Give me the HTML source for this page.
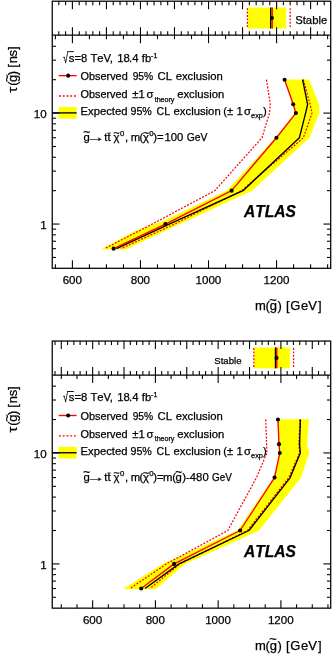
<!DOCTYPE html>
<html lang="en">
<head>
<meta charset="utf-8">
<title>ATLAS gluino lifetime exclusion</title>
<style>
html,body{margin:0;padding:0;background:#fff;}
body{width:332px;height:655px;overflow:hidden;}
svg{display:block;filter:blur(0.33px);}
svg text{font-family:'Liberation Sans', Arial, Helvetica, sans-serif;fill:#000;font-kerning:none;stroke:#000;stroke-width:0.25px;}
</style>
</head>
<body>
<svg width="332" height="655" viewBox="0 0 332 655">
<rect x="0" y="0" width="332" height="655" fill="#fff"/>
<g id="plot1">
<path d="M284.3 79.5 L292.5 104.4 L295 113.05 L275.5 137.6 L227 190.6 L165 220.2 L135 231.1 L102.5 248.6 L103.5 249.5 L125.6 249.5 L180 224.05 L252.3 190.6 L309.4 137.7 L319.2 113.5 L319.2 104.9 L309.1 79.5 Z" fill="#ffff00" stroke="none" stroke-width="1"/>
<rect x="247.8" y="7.6" width="38.4" height="20.9" fill="#ffff00"/>
<rect x="58.7" y="107" width="17.9" height="11.7" fill="#ffff00"/>
<path d="M266.5 79.7 L270.3 104.31 L269.5 113.1 L262 137.71 L214.8 190.65 L152.3 224.05 L104.5 248.66" fill="none" stroke="#ff0000" stroke-width="1.25" stroke-dasharray="1.9 1.5" stroke-linejoin="round"/>
<path d="M303.3 79.7 L310.1 104.31 L312 113.1 L303.4 137.71 L241.5 190.65 L174.5 224.05 L121 248.66" fill="none" stroke="#ff0000" stroke-width="1.25" stroke-dasharray="1.9 1.5" stroke-linejoin="round"/>
<line x1="247.4" y1="8.2" x2="247.4" y2="28.5" stroke="#ff0000" stroke-width="1.25" stroke-dasharray="1.9 1.5" stroke-linejoin="round"/>
<line x1="290.2" y1="8.2" x2="290.2" y2="28.5" stroke="#ff0000" stroke-width="1.25" stroke-dasharray="1.9 1.5" stroke-linejoin="round"/>
<line x1="59" y1="96" x2="76" y2="96" stroke="#ff0000" stroke-width="1.4" stroke-dasharray="1.9 1.85"/>
<path d="M302.6 79.7 L307.6 104.31 L305.6 113.1 L299.4 137.71 L243 190.65 L169.2 224.05 L116.5 248.66" fill="none" stroke="#000" stroke-width="1.35" stroke-linejoin="round"/>
<line x1="270.7" y1="7.6" x2="270.7" y2="28.5" stroke="#000" stroke-width="1.4"/>
<line x1="52.25" y1="112.9" x2="76.6" y2="112.9" stroke="#000" stroke-width="1.35"/>
<path d="M284.6 79.7 L293.2 104.31 L295.9 113.1 L276.45 137.71 L231.6 190.65 L165.4 224.05 L113.6 248.66" fill="none" stroke="#ff0000" stroke-width="1.35" stroke-linejoin="round"/>
<circle cx="284.6" cy="79.7" r="2.05" fill="#000"/>
<circle cx="293.2" cy="104.31" r="2.05" fill="#000"/>
<circle cx="295.9" cy="113.1" r="2.05" fill="#000"/>
<circle cx="276.45" cy="137.71" r="2.05" fill="#000"/>
<circle cx="231.6" cy="190.65" r="2.05" fill="#000"/>
<circle cx="165.4" cy="224.05" r="2.05" fill="#000"/>
<circle cx="113.6" cy="248.66" r="2.05" fill="#000"/>
<line x1="272.2" y1="7.6" x2="272.2" y2="28.5" stroke="#ff0000" stroke-width="1.4"/>
<circle cx="271.95" cy="18.05" r="2.05" fill="#000"/>
<line x1="58.7" y1="75.65" x2="76.6" y2="75.65" stroke="#ff0000" stroke-width="1.35"/>
<circle cx="68.2" cy="75.65" r="2.05" fill="#000"/>
<rect x="52.25" y="1.2" width="278.45" height="267.1" fill="none" stroke="#000" stroke-width="1.25"/>
<line x1="52.25" y1="35.15" x2="330.7" y2="35.15" stroke="#000" stroke-width="1.25"/>
<line x1="55.39" y1="35.15" x2="55.39" y2="39.15" stroke="#000" stroke-width="1.08"/>
<line x1="55.39" y1="268.3" x2="55.39" y2="264.3" stroke="#000" stroke-width="1.08"/>
<line x1="58.79" y1="1.2" x2="58.79" y2="5.2" stroke="#000" stroke-width="1.08"/>
<line x1="58.79" y1="35.15" x2="58.79" y2="31.15" stroke="#000" stroke-width="1.08"/>
<line x1="65.59" y1="1.2" x2="65.59" y2="5.2" stroke="#000" stroke-width="1.08"/>
<line x1="65.59" y1="35.15" x2="65.59" y2="31.15" stroke="#000" stroke-width="1.08"/>
<line x1="72.4" y1="1.2" x2="72.4" y2="9.2" stroke="#000" stroke-width="1.08"/>
<line x1="72.4" y1="35.15" x2="72.4" y2="27.15" stroke="#000" stroke-width="1.08"/>
<line x1="72.4" y1="35.15" x2="72.4" y2="43.15" stroke="#000" stroke-width="1.08"/>
<line x1="72.4" y1="268.3" x2="72.4" y2="260.3" stroke="#000" stroke-width="1.08"/>
<line x1="79.21" y1="1.2" x2="79.21" y2="5.2" stroke="#000" stroke-width="1.08"/>
<line x1="79.21" y1="35.15" x2="79.21" y2="31.15" stroke="#000" stroke-width="1.08"/>
<line x1="86.01" y1="1.2" x2="86.01" y2="5.2" stroke="#000" stroke-width="1.08"/>
<line x1="86.01" y1="35.15" x2="86.01" y2="31.15" stroke="#000" stroke-width="1.08"/>
<line x1="89.42" y1="35.15" x2="89.42" y2="39.15" stroke="#000" stroke-width="1.08"/>
<line x1="89.42" y1="268.3" x2="89.42" y2="264.3" stroke="#000" stroke-width="1.08"/>
<line x1="92.82" y1="1.2" x2="92.82" y2="5.2" stroke="#000" stroke-width="1.08"/>
<line x1="92.82" y1="35.15" x2="92.82" y2="31.15" stroke="#000" stroke-width="1.08"/>
<line x1="99.62" y1="1.2" x2="99.62" y2="5.2" stroke="#000" stroke-width="1.08"/>
<line x1="99.62" y1="35.15" x2="99.62" y2="31.15" stroke="#000" stroke-width="1.08"/>
<line x1="106.43" y1="1.2" x2="106.43" y2="9.2" stroke="#000" stroke-width="1.08"/>
<line x1="106.43" y1="35.15" x2="106.43" y2="27.15" stroke="#000" stroke-width="1.08"/>
<line x1="106.43" y1="35.15" x2="106.43" y2="39.15" stroke="#000" stroke-width="1.08"/>
<line x1="106.43" y1="268.3" x2="106.43" y2="264.3" stroke="#000" stroke-width="1.08"/>
<line x1="113.24" y1="1.2" x2="113.24" y2="5.2" stroke="#000" stroke-width="1.08"/>
<line x1="113.24" y1="35.15" x2="113.24" y2="31.15" stroke="#000" stroke-width="1.08"/>
<line x1="120.04" y1="1.2" x2="120.04" y2="5.2" stroke="#000" stroke-width="1.08"/>
<line x1="120.04" y1="35.15" x2="120.04" y2="31.15" stroke="#000" stroke-width="1.08"/>
<line x1="123.45" y1="35.15" x2="123.45" y2="39.15" stroke="#000" stroke-width="1.08"/>
<line x1="123.45" y1="268.3" x2="123.45" y2="264.3" stroke="#000" stroke-width="1.08"/>
<line x1="126.85" y1="1.2" x2="126.85" y2="5.2" stroke="#000" stroke-width="1.08"/>
<line x1="126.85" y1="35.15" x2="126.85" y2="31.15" stroke="#000" stroke-width="1.08"/>
<line x1="133.65" y1="1.2" x2="133.65" y2="5.2" stroke="#000" stroke-width="1.08"/>
<line x1="133.65" y1="35.15" x2="133.65" y2="31.15" stroke="#000" stroke-width="1.08"/>
<line x1="140.46" y1="1.2" x2="140.46" y2="9.2" stroke="#000" stroke-width="1.08"/>
<line x1="140.46" y1="35.15" x2="140.46" y2="27.15" stroke="#000" stroke-width="1.08"/>
<line x1="140.46" y1="35.15" x2="140.46" y2="43.15" stroke="#000" stroke-width="1.08"/>
<line x1="140.46" y1="268.3" x2="140.46" y2="260.3" stroke="#000" stroke-width="1.08"/>
<line x1="147.27" y1="1.2" x2="147.27" y2="5.2" stroke="#000" stroke-width="1.08"/>
<line x1="147.27" y1="35.15" x2="147.27" y2="31.15" stroke="#000" stroke-width="1.08"/>
<line x1="154.07" y1="1.2" x2="154.07" y2="5.2" stroke="#000" stroke-width="1.08"/>
<line x1="154.07" y1="35.15" x2="154.07" y2="31.15" stroke="#000" stroke-width="1.08"/>
<line x1="157.48" y1="35.15" x2="157.48" y2="39.15" stroke="#000" stroke-width="1.08"/>
<line x1="157.48" y1="268.3" x2="157.48" y2="264.3" stroke="#000" stroke-width="1.08"/>
<line x1="160.88" y1="1.2" x2="160.88" y2="5.2" stroke="#000" stroke-width="1.08"/>
<line x1="160.88" y1="35.15" x2="160.88" y2="31.15" stroke="#000" stroke-width="1.08"/>
<line x1="167.68" y1="1.2" x2="167.68" y2="5.2" stroke="#000" stroke-width="1.08"/>
<line x1="167.68" y1="35.15" x2="167.68" y2="31.15" stroke="#000" stroke-width="1.08"/>
<line x1="174.49" y1="1.2" x2="174.49" y2="9.2" stroke="#000" stroke-width="1.08"/>
<line x1="174.49" y1="35.15" x2="174.49" y2="27.15" stroke="#000" stroke-width="1.08"/>
<line x1="174.49" y1="35.15" x2="174.49" y2="39.15" stroke="#000" stroke-width="1.08"/>
<line x1="174.49" y1="268.3" x2="174.49" y2="264.3" stroke="#000" stroke-width="1.08"/>
<line x1="181.3" y1="1.2" x2="181.3" y2="5.2" stroke="#000" stroke-width="1.08"/>
<line x1="181.3" y1="35.15" x2="181.3" y2="31.15" stroke="#000" stroke-width="1.08"/>
<line x1="188.1" y1="1.2" x2="188.1" y2="5.2" stroke="#000" stroke-width="1.08"/>
<line x1="188.1" y1="35.15" x2="188.1" y2="31.15" stroke="#000" stroke-width="1.08"/>
<line x1="191.5" y1="35.15" x2="191.5" y2="39.15" stroke="#000" stroke-width="1.08"/>
<line x1="191.5" y1="268.3" x2="191.5" y2="264.3" stroke="#000" stroke-width="1.08"/>
<line x1="194.91" y1="1.2" x2="194.91" y2="5.2" stroke="#000" stroke-width="1.08"/>
<line x1="194.91" y1="35.15" x2="194.91" y2="31.15" stroke="#000" stroke-width="1.08"/>
<line x1="201.71" y1="1.2" x2="201.71" y2="5.2" stroke="#000" stroke-width="1.08"/>
<line x1="201.71" y1="35.15" x2="201.71" y2="31.15" stroke="#000" stroke-width="1.08"/>
<line x1="208.52" y1="1.2" x2="208.52" y2="9.2" stroke="#000" stroke-width="1.08"/>
<line x1="208.52" y1="35.15" x2="208.52" y2="27.15" stroke="#000" stroke-width="1.08"/>
<line x1="208.52" y1="35.15" x2="208.52" y2="43.15" stroke="#000" stroke-width="1.08"/>
<line x1="208.52" y1="268.3" x2="208.52" y2="260.3" stroke="#000" stroke-width="1.08"/>
<line x1="215.33" y1="1.2" x2="215.33" y2="5.2" stroke="#000" stroke-width="1.08"/>
<line x1="215.33" y1="35.15" x2="215.33" y2="31.15" stroke="#000" stroke-width="1.08"/>
<line x1="222.13" y1="1.2" x2="222.13" y2="5.2" stroke="#000" stroke-width="1.08"/>
<line x1="222.13" y1="35.15" x2="222.13" y2="31.15" stroke="#000" stroke-width="1.08"/>
<line x1="225.53" y1="35.15" x2="225.53" y2="39.15" stroke="#000" stroke-width="1.08"/>
<line x1="225.53" y1="268.3" x2="225.53" y2="264.3" stroke="#000" stroke-width="1.08"/>
<line x1="228.94" y1="1.2" x2="228.94" y2="5.2" stroke="#000" stroke-width="1.08"/>
<line x1="228.94" y1="35.15" x2="228.94" y2="31.15" stroke="#000" stroke-width="1.08"/>
<line x1="235.74" y1="1.2" x2="235.74" y2="5.2" stroke="#000" stroke-width="1.08"/>
<line x1="235.74" y1="35.15" x2="235.74" y2="31.15" stroke="#000" stroke-width="1.08"/>
<line x1="242.55" y1="1.2" x2="242.55" y2="9.2" stroke="#000" stroke-width="1.08"/>
<line x1="242.55" y1="35.15" x2="242.55" y2="27.15" stroke="#000" stroke-width="1.08"/>
<line x1="242.55" y1="35.15" x2="242.55" y2="39.15" stroke="#000" stroke-width="1.08"/>
<line x1="242.55" y1="268.3" x2="242.55" y2="264.3" stroke="#000" stroke-width="1.08"/>
<line x1="249.36" y1="1.2" x2="249.36" y2="5.2" stroke="#000" stroke-width="1.08"/>
<line x1="249.36" y1="35.15" x2="249.36" y2="31.15" stroke="#000" stroke-width="1.08"/>
<line x1="256.16" y1="1.2" x2="256.16" y2="5.2" stroke="#000" stroke-width="1.08"/>
<line x1="256.16" y1="35.15" x2="256.16" y2="31.15" stroke="#000" stroke-width="1.08"/>
<line x1="259.56" y1="35.15" x2="259.56" y2="39.15" stroke="#000" stroke-width="1.08"/>
<line x1="259.56" y1="268.3" x2="259.56" y2="264.3" stroke="#000" stroke-width="1.08"/>
<line x1="262.97" y1="1.2" x2="262.97" y2="5.2" stroke="#000" stroke-width="1.08"/>
<line x1="262.97" y1="35.15" x2="262.97" y2="31.15" stroke="#000" stroke-width="1.08"/>
<line x1="269.77" y1="1.2" x2="269.77" y2="5.2" stroke="#000" stroke-width="1.08"/>
<line x1="269.77" y1="35.15" x2="269.77" y2="31.15" stroke="#000" stroke-width="1.08"/>
<line x1="276.58" y1="1.2" x2="276.58" y2="9.2" stroke="#000" stroke-width="1.08"/>
<line x1="276.58" y1="35.15" x2="276.58" y2="27.15" stroke="#000" stroke-width="1.08"/>
<line x1="276.58" y1="35.15" x2="276.58" y2="43.15" stroke="#000" stroke-width="1.08"/>
<line x1="276.58" y1="268.3" x2="276.58" y2="260.3" stroke="#000" stroke-width="1.08"/>
<line x1="283.39" y1="1.2" x2="283.39" y2="5.2" stroke="#000" stroke-width="1.08"/>
<line x1="283.39" y1="35.15" x2="283.39" y2="31.15" stroke="#000" stroke-width="1.08"/>
<line x1="290.19" y1="1.2" x2="290.19" y2="5.2" stroke="#000" stroke-width="1.08"/>
<line x1="290.19" y1="35.15" x2="290.19" y2="31.15" stroke="#000" stroke-width="1.08"/>
<line x1="293.6" y1="35.15" x2="293.6" y2="39.15" stroke="#000" stroke-width="1.08"/>
<line x1="293.6" y1="268.3" x2="293.6" y2="264.3" stroke="#000" stroke-width="1.08"/>
<line x1="297" y1="1.2" x2="297" y2="5.2" stroke="#000" stroke-width="1.08"/>
<line x1="297" y1="35.15" x2="297" y2="31.15" stroke="#000" stroke-width="1.08"/>
<line x1="303.8" y1="1.2" x2="303.8" y2="5.2" stroke="#000" stroke-width="1.08"/>
<line x1="303.8" y1="35.15" x2="303.8" y2="31.15" stroke="#000" stroke-width="1.08"/>
<line x1="310.61" y1="1.2" x2="310.61" y2="9.2" stroke="#000" stroke-width="1.08"/>
<line x1="310.61" y1="35.15" x2="310.61" y2="27.15" stroke="#000" stroke-width="1.08"/>
<line x1="310.61" y1="35.15" x2="310.61" y2="39.15" stroke="#000" stroke-width="1.08"/>
<line x1="310.61" y1="268.3" x2="310.61" y2="264.3" stroke="#000" stroke-width="1.08"/>
<line x1="317.42" y1="1.2" x2="317.42" y2="5.2" stroke="#000" stroke-width="1.08"/>
<line x1="317.42" y1="35.15" x2="317.42" y2="31.15" stroke="#000" stroke-width="1.08"/>
<line x1="324.22" y1="1.2" x2="324.22" y2="5.2" stroke="#000" stroke-width="1.08"/>
<line x1="324.22" y1="35.15" x2="324.22" y2="31.15" stroke="#000" stroke-width="1.08"/>
<line x1="327.62" y1="35.15" x2="327.62" y2="39.15" stroke="#000" stroke-width="1.08"/>
<line x1="327.62" y1="268.3" x2="327.62" y2="264.3" stroke="#000" stroke-width="1.08"/>
<line x1="52.25" y1="257.45" x2="55.95" y2="257.45" stroke="#000" stroke-width="1.08"/>
<line x1="330.7" y1="257.45" x2="327" y2="257.45" stroke="#000" stroke-width="1.08"/>
<line x1="52.25" y1="248.66" x2="55.95" y2="248.66" stroke="#000" stroke-width="1.08"/>
<line x1="330.7" y1="248.66" x2="327" y2="248.66" stroke="#000" stroke-width="1.08"/>
<line x1="52.25" y1="241.24" x2="55.95" y2="241.24" stroke="#000" stroke-width="1.08"/>
<line x1="330.7" y1="241.24" x2="327" y2="241.24" stroke="#000" stroke-width="1.08"/>
<line x1="52.25" y1="234.8" x2="55.95" y2="234.8" stroke="#000" stroke-width="1.08"/>
<line x1="330.7" y1="234.8" x2="327" y2="234.8" stroke="#000" stroke-width="1.08"/>
<line x1="52.25" y1="229.13" x2="55.95" y2="229.13" stroke="#000" stroke-width="1.08"/>
<line x1="330.7" y1="229.13" x2="327" y2="229.13" stroke="#000" stroke-width="1.08"/>
<line x1="52.25" y1="224.05" x2="59.55" y2="224.05" stroke="#000" stroke-width="1.08"/>
<line x1="330.7" y1="224.05" x2="323.4" y2="224.05" stroke="#000" stroke-width="1.08"/>
<line x1="52.25" y1="190.65" x2="55.95" y2="190.65" stroke="#000" stroke-width="1.08"/>
<line x1="330.7" y1="190.65" x2="327" y2="190.65" stroke="#000" stroke-width="1.08"/>
<line x1="52.25" y1="171.11" x2="55.95" y2="171.11" stroke="#000" stroke-width="1.08"/>
<line x1="330.7" y1="171.11" x2="327" y2="171.11" stroke="#000" stroke-width="1.08"/>
<line x1="52.25" y1="157.25" x2="55.95" y2="157.25" stroke="#000" stroke-width="1.08"/>
<line x1="330.7" y1="157.25" x2="327" y2="157.25" stroke="#000" stroke-width="1.08"/>
<line x1="52.25" y1="146.5" x2="55.95" y2="146.5" stroke="#000" stroke-width="1.08"/>
<line x1="330.7" y1="146.5" x2="327" y2="146.5" stroke="#000" stroke-width="1.08"/>
<line x1="52.25" y1="137.71" x2="55.95" y2="137.71" stroke="#000" stroke-width="1.08"/>
<line x1="330.7" y1="137.71" x2="327" y2="137.71" stroke="#000" stroke-width="1.08"/>
<line x1="52.25" y1="130.29" x2="55.95" y2="130.29" stroke="#000" stroke-width="1.08"/>
<line x1="330.7" y1="130.29" x2="327" y2="130.29" stroke="#000" stroke-width="1.08"/>
<line x1="52.25" y1="123.85" x2="55.95" y2="123.85" stroke="#000" stroke-width="1.08"/>
<line x1="330.7" y1="123.85" x2="327" y2="123.85" stroke="#000" stroke-width="1.08"/>
<line x1="52.25" y1="118.18" x2="55.95" y2="118.18" stroke="#000" stroke-width="1.08"/>
<line x1="330.7" y1="118.18" x2="327" y2="118.18" stroke="#000" stroke-width="1.08"/>
<line x1="52.25" y1="113.1" x2="59.55" y2="113.1" stroke="#000" stroke-width="1.08"/>
<line x1="330.7" y1="113.1" x2="323.4" y2="113.1" stroke="#000" stroke-width="1.08"/>
<line x1="52.25" y1="79.7" x2="55.95" y2="79.7" stroke="#000" stroke-width="1.08"/>
<line x1="330.7" y1="79.7" x2="327" y2="79.7" stroke="#000" stroke-width="1.08"/>
<line x1="52.25" y1="60.16" x2="55.95" y2="60.16" stroke="#000" stroke-width="1.08"/>
<line x1="330.7" y1="60.16" x2="327" y2="60.16" stroke="#000" stroke-width="1.08"/>
<line x1="52.25" y1="46.3" x2="55.95" y2="46.3" stroke="#000" stroke-width="1.08"/>
<line x1="330.7" y1="46.3" x2="327" y2="46.3" stroke="#000" stroke-width="1.08"/>
<text x="72.3" y="283.8" font-size="11.6" text-anchor="middle">600</text>
<text x="140.36" y="283.8" font-size="11.6" text-anchor="middle">800</text>
<text x="208.42" y="283.8" font-size="11.6" text-anchor="middle">1000</text>
<text x="276.48" y="283.8" font-size="11.6" text-anchor="middle">1200</text>
<text x="46.6" y="117.9" font-size="11.6" text-anchor="end">10</text>
<text x="46.6" y="228.9" font-size="11.6" text-anchor="end">1</text>
<text x="254.95" y="310.2" font-size="13" text-anchor="start">m</text>
<text x="265.4" y="310.2" font-size="13" text-anchor="start">(</text>
<text x="269.65" y="310.2" font-size="13" text-anchor="start">g</text>
<text x="277.5" y="310.2" font-size="13" text-anchor="start">)</text>
<text x="285.9" y="310.2" font-size="13" text-anchor="start">[</text>
<text x="290.25" y="310.2" font-size="13" text-anchor="start">G</text>
<text x="301.05" y="310.2" font-size="13" text-anchor="start">e</text>
<text x="308.15" y="310.2" font-size="13" text-anchor="start">V</text>
<text x="318" y="310.2" font-size="13" text-anchor="start">]</text>
<text x="269.3" y="303.6" font-size="13" text-anchor="start">~</text>
<g transform="translate(17.2 93) rotate(-90)">
<text x="0.29" y="0" font-size="13" textLength="5.99" lengthAdjust="spacingAndGlyphs">τ</text>
<text x="7.19" y="0" font-size="13">(</text>
<text x="11.05" y="0" font-size="13">g</text>
<text x="17.82" y="0" font-size="13">)</text>
<text x="25.17" y="0" font-size="13">[</text>
<text x="29.69" y="0" font-size="13">n</text>
<text x="36.54" y="0" font-size="13">s</text>
<text x="42.9" y="0" font-size="13">]</text>
<text x="11.0" y="-6.6" font-size="13">~</text>
</g>
<text transform="translate(63.3 62.6) scale(0.62 1)" font-size="13.8">√</text>
<line x1="67.2" y1="51.65" x2="73.9" y2="51.65" stroke="#000" stroke-width="0.9"/>
<text x="68.75" y="61.6" font-size="11.3" text-anchor="start">s=8 TeV</text>
<text x="109.8" y="61.6" font-size="11.3" text-anchor="start">,</text>
<text x="117.3" y="61.6" font-size="11.3" text-anchor="start">18</text>
<text x="129.1" y="61.6" font-size="11.3" text-anchor="start">.4</text>
<text x="141.8" y="61.6" font-size="11.3" text-anchor="start">fb</text>
<text x="151.1" y="57.5" font-size="7" text-anchor="start">-1</text>
<text x="80.53" y="79.8" font-size="11.3" text-anchor="start" textLength="47.22" lengthAdjust="spacingAndGlyphs">Observed</text>
<text x="132.67" y="79.8" font-size="11.3" text-anchor="start" textLength="20.55" lengthAdjust="spacingAndGlyphs">95%</text>
<text x="157.58" y="79.8" font-size="11.3" text-anchor="start">CL</text>
<text x="175.67" y="79.8" font-size="11.3" text-anchor="start">exclusion</text>
<text x="80.43" y="97.9" font-size="11.3" text-anchor="start" textLength="47.22" lengthAdjust="spacingAndGlyphs">Observed</text>
<text x="132.3" y="97.9" font-size="11.3" text-anchor="start">±1</text>
<text x="146.6" y="97.9" font-size="11.3" text-anchor="start">σ</text>
<text x="154.7" y="101.5" font-size="7.1" text-anchor="start">theory</text>
<text x="177.17" y="97.9" font-size="11.3" text-anchor="start">exclusion</text>
<text x="80.47" y="115" font-size="11.3" text-anchor="start">Expected</text>
<text x="130.45" y="115" font-size="11.3" text-anchor="start" textLength="21.38" lengthAdjust="spacingAndGlyphs">95%</text>
<text x="156.61" y="115" font-size="11.3" text-anchor="start" textLength="13.49" lengthAdjust="spacingAndGlyphs">CL</text>
<text x="173.57" y="115" font-size="11.3" text-anchor="start">exclusion</text>
<text x="223.2" y="115" font-size="11.3" text-anchor="start">(±</text>
<text x="236.5" y="115" font-size="11.3" text-anchor="start">1</text>
<text x="243.9" y="115" font-size="11.3" text-anchor="start">σ</text>
<text x="251.1" y="118.1" font-size="7.3" text-anchor="start">exp</text>
<text x="262.9" y="115" font-size="11.3" text-anchor="start">)</text>
<text x="83.6" y="141.4" font-size="11.3" text-anchor="start">g</text>
<text x="83.3" y="136.3" font-size="12" text-anchor="start">~</text>
<text transform="translate(85.9 141.4) scale(1.7 1)" font-size="11.3">→</text>
<text x="104.3" y="141.4" font-size="11.3" text-anchor="start">tt</text>
<line x1="107.4" y1="133.2" x2="110.6" y2="133.2" stroke="#000" stroke-width="0.9"/>
<text x="113.5" y="141.4" font-size="11.3" text-anchor="start">χ</text>
<text x="113.5" y="137.45" font-size="10.6" text-anchor="start" stroke-width="0">~</text>
<text x="120" y="135.8" font-size="7.8" text-anchor="start">0</text>
<text x="124.9" y="141.4" font-size="11.3" text-anchor="start">,</text>
<text x="130.7" y="141.4" font-size="11.3" text-anchor="start">m</text>
<text x="139.5" y="141.4" font-size="11.3" text-anchor="start">(</text>
<text x="142.9" y="141.4" font-size="11.3" text-anchor="start">χ</text>
<text x="142.9" y="137.45" font-size="10.6" text-anchor="start" stroke-width="0">~</text>
<text x="149.3" y="135.8" font-size="7.8" text-anchor="start">0</text>
<text x="153.3" y="141.4" font-size="11.3" text-anchor="start">)=</text>
<text x="164.4" y="141.4" font-size="11.3" text-anchor="start">100</text>
<text x="186.63" y="141.4" font-size="11.3" text-anchor="start" textLength="20.77" lengthAdjust="spacingAndGlyphs">GeV</text>
<text x="243.9" y="217" font-size="15.6" text-anchor="start" font-weight="bold" font-style="italic">ATLAS</text>
<text x="295.2" y="24" font-size="11.3" text-anchor="start">Stable</text>
</g>
<g id="plot2">
<path d="M277.6 419.35 L278.5 444.25 L279.2 452.9 L273.8 477.45 L237.5 530.45 L162.5 563.9 L123.8 588.45 L124.8 589.35 L155.7 589.35 L185 563.9 L259.1 530.45 L301 477.55 L309.3 453.05 L306.9 444.75 L309 419.35 Z" fill="#ffff00" stroke="none" stroke-width="1"/>
<rect x="254.2" y="347.45" width="35.7" height="20.9" fill="#ffff00"/>
<rect x="58.7" y="446.85" width="17.9" height="11.7" fill="#ffff00"/>
<path d="M265.7 419.55 L266.6 444.16 L266.9 452.95 L256.5 477.56 L227.8 530.5 L166.5 563.9 L130 588.51" fill="none" stroke="#ff0000" stroke-width="1.25" stroke-dasharray="1.9 1.5" stroke-linejoin="round"/>
<path d="M299.9 419.55 L299 444.16 L299.6 452.95 L288.8 477.56 L247.6 530.5 L180 563.9 L149.8 588.51" fill="none" stroke="#ff0000" stroke-width="1.25" stroke-dasharray="1.9 1.5" stroke-linejoin="round"/>
<line x1="253.8" y1="348.05" x2="253.8" y2="368.35" stroke="#ff0000" stroke-width="1.25" stroke-dasharray="1.9 1.5" stroke-linejoin="round"/>
<line x1="293.6" y1="348.05" x2="293.6" y2="368.35" stroke="#ff0000" stroke-width="1.25" stroke-dasharray="1.9 1.5" stroke-linejoin="round"/>
<line x1="59" y1="435.85" x2="76" y2="435.85" stroke="#ff0000" stroke-width="1.4" stroke-dasharray="1.9 1.85"/>
<path d="M300.4 419.55 L299.6 444.16 L300.3 452.95 L290.2 477.56 L249 530.5 L179 563.9 L145 588.51" fill="none" stroke="#000" stroke-width="1.35" stroke-linejoin="round"/>
<line x1="275.5" y1="347.45" x2="275.5" y2="368.35" stroke="#000" stroke-width="1.4"/>
<line x1="52.25" y1="452.75" x2="76.6" y2="452.75" stroke="#000" stroke-width="1.35"/>
<path d="M277.95 419.55 L279 444.16 L279.8 452.95 L274.55 477.56 L240.1 530.5 L174.1 563.9 L141.2 588.51" fill="none" stroke="#ff0000" stroke-width="1.35" stroke-linejoin="round"/>
<circle cx="277.95" cy="419.55" r="2.05" fill="#000"/>
<circle cx="279" cy="444.16" r="2.05" fill="#000"/>
<circle cx="279.8" cy="452.95" r="2.05" fill="#000"/>
<circle cx="274.55" cy="477.56" r="2.05" fill="#000"/>
<circle cx="240.1" cy="530.5" r="2.05" fill="#000"/>
<circle cx="174.1" cy="563.9" r="2.05" fill="#000"/>
<circle cx="141.2" cy="588.51" r="2.05" fill="#000"/>
<line x1="276.8" y1="347.45" x2="276.8" y2="368.35" stroke="#ff0000" stroke-width="1.4"/>
<circle cx="276.55" cy="357.9" r="2.05" fill="#000"/>
<line x1="58.7" y1="415.5" x2="76.6" y2="415.5" stroke="#ff0000" stroke-width="1.35"/>
<circle cx="68.2" cy="415.5" r="2.05" fill="#000"/>
<rect x="52.25" y="341.05" width="278.45" height="267.1" fill="none" stroke="#000" stroke-width="1.25"/>
<line x1="52.25" y1="375" x2="330.7" y2="375" stroke="#000" stroke-width="1.25"/>
<line x1="55" y1="341.05" x2="55" y2="345.05" stroke="#000" stroke-width="1.08"/>
<line x1="55" y1="375" x2="55" y2="371" stroke="#000" stroke-width="1.08"/>
<line x1="61.28" y1="341.05" x2="61.28" y2="349.05" stroke="#000" stroke-width="1.08"/>
<line x1="61.28" y1="375" x2="61.28" y2="367" stroke="#000" stroke-width="1.08"/>
<line x1="61.28" y1="375" x2="61.28" y2="379" stroke="#000" stroke-width="1.08"/>
<line x1="61.28" y1="608.15" x2="61.28" y2="604.15" stroke="#000" stroke-width="1.08"/>
<line x1="67.55" y1="341.05" x2="67.55" y2="345.05" stroke="#000" stroke-width="1.08"/>
<line x1="67.55" y1="375" x2="67.55" y2="371" stroke="#000" stroke-width="1.08"/>
<line x1="73.83" y1="341.05" x2="73.83" y2="345.05" stroke="#000" stroke-width="1.08"/>
<line x1="73.83" y1="375" x2="73.83" y2="371" stroke="#000" stroke-width="1.08"/>
<line x1="76.96" y1="375" x2="76.96" y2="379" stroke="#000" stroke-width="1.08"/>
<line x1="76.96" y1="608.15" x2="76.96" y2="604.15" stroke="#000" stroke-width="1.08"/>
<line x1="80.1" y1="341.05" x2="80.1" y2="345.05" stroke="#000" stroke-width="1.08"/>
<line x1="80.1" y1="375" x2="80.1" y2="371" stroke="#000" stroke-width="1.08"/>
<line x1="86.38" y1="341.05" x2="86.38" y2="345.05" stroke="#000" stroke-width="1.08"/>
<line x1="86.38" y1="375" x2="86.38" y2="371" stroke="#000" stroke-width="1.08"/>
<line x1="92.65" y1="341.05" x2="92.65" y2="349.05" stroke="#000" stroke-width="1.08"/>
<line x1="92.65" y1="375" x2="92.65" y2="367" stroke="#000" stroke-width="1.08"/>
<line x1="92.65" y1="375" x2="92.65" y2="383" stroke="#000" stroke-width="1.08"/>
<line x1="92.65" y1="608.15" x2="92.65" y2="600.15" stroke="#000" stroke-width="1.08"/>
<line x1="98.93" y1="341.05" x2="98.93" y2="345.05" stroke="#000" stroke-width="1.08"/>
<line x1="98.93" y1="375" x2="98.93" y2="371" stroke="#000" stroke-width="1.08"/>
<line x1="105.2" y1="341.05" x2="105.2" y2="345.05" stroke="#000" stroke-width="1.08"/>
<line x1="105.2" y1="375" x2="105.2" y2="371" stroke="#000" stroke-width="1.08"/>
<line x1="108.34" y1="375" x2="108.34" y2="379" stroke="#000" stroke-width="1.08"/>
<line x1="108.34" y1="608.15" x2="108.34" y2="604.15" stroke="#000" stroke-width="1.08"/>
<line x1="111.48" y1="341.05" x2="111.48" y2="345.05" stroke="#000" stroke-width="1.08"/>
<line x1="111.48" y1="375" x2="111.48" y2="371" stroke="#000" stroke-width="1.08"/>
<line x1="117.75" y1="341.05" x2="117.75" y2="345.05" stroke="#000" stroke-width="1.08"/>
<line x1="117.75" y1="375" x2="117.75" y2="371" stroke="#000" stroke-width="1.08"/>
<line x1="124.03" y1="341.05" x2="124.03" y2="349.05" stroke="#000" stroke-width="1.08"/>
<line x1="124.03" y1="375" x2="124.03" y2="367" stroke="#000" stroke-width="1.08"/>
<line x1="124.03" y1="375" x2="124.03" y2="379" stroke="#000" stroke-width="1.08"/>
<line x1="124.03" y1="608.15" x2="124.03" y2="604.15" stroke="#000" stroke-width="1.08"/>
<line x1="130.3" y1="341.05" x2="130.3" y2="345.05" stroke="#000" stroke-width="1.08"/>
<line x1="130.3" y1="375" x2="130.3" y2="371" stroke="#000" stroke-width="1.08"/>
<line x1="136.57" y1="341.05" x2="136.57" y2="345.05" stroke="#000" stroke-width="1.08"/>
<line x1="136.57" y1="375" x2="136.57" y2="371" stroke="#000" stroke-width="1.08"/>
<line x1="139.71" y1="375" x2="139.71" y2="379" stroke="#000" stroke-width="1.08"/>
<line x1="139.71" y1="608.15" x2="139.71" y2="604.15" stroke="#000" stroke-width="1.08"/>
<line x1="142.85" y1="341.05" x2="142.85" y2="345.05" stroke="#000" stroke-width="1.08"/>
<line x1="142.85" y1="375" x2="142.85" y2="371" stroke="#000" stroke-width="1.08"/>
<line x1="149.12" y1="341.05" x2="149.12" y2="345.05" stroke="#000" stroke-width="1.08"/>
<line x1="149.12" y1="375" x2="149.12" y2="371" stroke="#000" stroke-width="1.08"/>
<line x1="155.4" y1="341.05" x2="155.4" y2="349.05" stroke="#000" stroke-width="1.08"/>
<line x1="155.4" y1="375" x2="155.4" y2="367" stroke="#000" stroke-width="1.08"/>
<line x1="155.4" y1="375" x2="155.4" y2="383" stroke="#000" stroke-width="1.08"/>
<line x1="155.4" y1="608.15" x2="155.4" y2="600.15" stroke="#000" stroke-width="1.08"/>
<line x1="161.68" y1="341.05" x2="161.68" y2="345.05" stroke="#000" stroke-width="1.08"/>
<line x1="161.68" y1="375" x2="161.68" y2="371" stroke="#000" stroke-width="1.08"/>
<line x1="167.95" y1="341.05" x2="167.95" y2="345.05" stroke="#000" stroke-width="1.08"/>
<line x1="167.95" y1="375" x2="167.95" y2="371" stroke="#000" stroke-width="1.08"/>
<line x1="171.09" y1="375" x2="171.09" y2="379" stroke="#000" stroke-width="1.08"/>
<line x1="171.09" y1="608.15" x2="171.09" y2="604.15" stroke="#000" stroke-width="1.08"/>
<line x1="174.22" y1="341.05" x2="174.22" y2="345.05" stroke="#000" stroke-width="1.08"/>
<line x1="174.22" y1="375" x2="174.22" y2="371" stroke="#000" stroke-width="1.08"/>
<line x1="180.5" y1="341.05" x2="180.5" y2="345.05" stroke="#000" stroke-width="1.08"/>
<line x1="180.5" y1="375" x2="180.5" y2="371" stroke="#000" stroke-width="1.08"/>
<line x1="186.77" y1="341.05" x2="186.77" y2="349.05" stroke="#000" stroke-width="1.08"/>
<line x1="186.77" y1="375" x2="186.77" y2="367" stroke="#000" stroke-width="1.08"/>
<line x1="186.77" y1="375" x2="186.77" y2="379" stroke="#000" stroke-width="1.08"/>
<line x1="186.77" y1="608.15" x2="186.77" y2="604.15" stroke="#000" stroke-width="1.08"/>
<line x1="193.05" y1="341.05" x2="193.05" y2="345.05" stroke="#000" stroke-width="1.08"/>
<line x1="193.05" y1="375" x2="193.05" y2="371" stroke="#000" stroke-width="1.08"/>
<line x1="199.32" y1="341.05" x2="199.32" y2="345.05" stroke="#000" stroke-width="1.08"/>
<line x1="199.32" y1="375" x2="199.32" y2="371" stroke="#000" stroke-width="1.08"/>
<line x1="202.46" y1="375" x2="202.46" y2="379" stroke="#000" stroke-width="1.08"/>
<line x1="202.46" y1="608.15" x2="202.46" y2="604.15" stroke="#000" stroke-width="1.08"/>
<line x1="205.6" y1="341.05" x2="205.6" y2="345.05" stroke="#000" stroke-width="1.08"/>
<line x1="205.6" y1="375" x2="205.6" y2="371" stroke="#000" stroke-width="1.08"/>
<line x1="211.88" y1="341.05" x2="211.88" y2="345.05" stroke="#000" stroke-width="1.08"/>
<line x1="211.88" y1="375" x2="211.88" y2="371" stroke="#000" stroke-width="1.08"/>
<line x1="218.15" y1="341.05" x2="218.15" y2="349.05" stroke="#000" stroke-width="1.08"/>
<line x1="218.15" y1="375" x2="218.15" y2="367" stroke="#000" stroke-width="1.08"/>
<line x1="218.15" y1="375" x2="218.15" y2="383" stroke="#000" stroke-width="1.08"/>
<line x1="218.15" y1="608.15" x2="218.15" y2="600.15" stroke="#000" stroke-width="1.08"/>
<line x1="224.42" y1="341.05" x2="224.42" y2="345.05" stroke="#000" stroke-width="1.08"/>
<line x1="224.42" y1="375" x2="224.42" y2="371" stroke="#000" stroke-width="1.08"/>
<line x1="230.7" y1="341.05" x2="230.7" y2="345.05" stroke="#000" stroke-width="1.08"/>
<line x1="230.7" y1="375" x2="230.7" y2="371" stroke="#000" stroke-width="1.08"/>
<line x1="233.84" y1="375" x2="233.84" y2="379" stroke="#000" stroke-width="1.08"/>
<line x1="233.84" y1="608.15" x2="233.84" y2="604.15" stroke="#000" stroke-width="1.08"/>
<line x1="236.97" y1="341.05" x2="236.97" y2="345.05" stroke="#000" stroke-width="1.08"/>
<line x1="236.97" y1="375" x2="236.97" y2="371" stroke="#000" stroke-width="1.08"/>
<line x1="243.25" y1="341.05" x2="243.25" y2="345.05" stroke="#000" stroke-width="1.08"/>
<line x1="243.25" y1="375" x2="243.25" y2="371" stroke="#000" stroke-width="1.08"/>
<line x1="249.53" y1="341.05" x2="249.53" y2="349.05" stroke="#000" stroke-width="1.08"/>
<line x1="249.53" y1="375" x2="249.53" y2="367" stroke="#000" stroke-width="1.08"/>
<line x1="249.53" y1="375" x2="249.53" y2="379" stroke="#000" stroke-width="1.08"/>
<line x1="249.53" y1="608.15" x2="249.53" y2="604.15" stroke="#000" stroke-width="1.08"/>
<line x1="255.8" y1="341.05" x2="255.8" y2="345.05" stroke="#000" stroke-width="1.08"/>
<line x1="255.8" y1="375" x2="255.8" y2="371" stroke="#000" stroke-width="1.08"/>
<line x1="262.07" y1="341.05" x2="262.07" y2="345.05" stroke="#000" stroke-width="1.08"/>
<line x1="262.07" y1="375" x2="262.07" y2="371" stroke="#000" stroke-width="1.08"/>
<line x1="265.21" y1="375" x2="265.21" y2="379" stroke="#000" stroke-width="1.08"/>
<line x1="265.21" y1="608.15" x2="265.21" y2="604.15" stroke="#000" stroke-width="1.08"/>
<line x1="268.35" y1="341.05" x2="268.35" y2="345.05" stroke="#000" stroke-width="1.08"/>
<line x1="268.35" y1="375" x2="268.35" y2="371" stroke="#000" stroke-width="1.08"/>
<line x1="274.62" y1="341.05" x2="274.62" y2="345.05" stroke="#000" stroke-width="1.08"/>
<line x1="274.62" y1="375" x2="274.62" y2="371" stroke="#000" stroke-width="1.08"/>
<line x1="280.9" y1="341.05" x2="280.9" y2="349.05" stroke="#000" stroke-width="1.08"/>
<line x1="280.9" y1="375" x2="280.9" y2="367" stroke="#000" stroke-width="1.08"/>
<line x1="280.9" y1="375" x2="280.9" y2="383" stroke="#000" stroke-width="1.08"/>
<line x1="280.9" y1="608.15" x2="280.9" y2="600.15" stroke="#000" stroke-width="1.08"/>
<line x1="287.17" y1="341.05" x2="287.17" y2="345.05" stroke="#000" stroke-width="1.08"/>
<line x1="287.17" y1="375" x2="287.17" y2="371" stroke="#000" stroke-width="1.08"/>
<line x1="293.45" y1="341.05" x2="293.45" y2="345.05" stroke="#000" stroke-width="1.08"/>
<line x1="293.45" y1="375" x2="293.45" y2="371" stroke="#000" stroke-width="1.08"/>
<line x1="296.59" y1="375" x2="296.59" y2="379" stroke="#000" stroke-width="1.08"/>
<line x1="296.59" y1="608.15" x2="296.59" y2="604.15" stroke="#000" stroke-width="1.08"/>
<line x1="299.73" y1="341.05" x2="299.73" y2="345.05" stroke="#000" stroke-width="1.08"/>
<line x1="299.73" y1="375" x2="299.73" y2="371" stroke="#000" stroke-width="1.08"/>
<line x1="306" y1="341.05" x2="306" y2="345.05" stroke="#000" stroke-width="1.08"/>
<line x1="306" y1="375" x2="306" y2="371" stroke="#000" stroke-width="1.08"/>
<line x1="312.27" y1="341.05" x2="312.27" y2="349.05" stroke="#000" stroke-width="1.08"/>
<line x1="312.27" y1="375" x2="312.27" y2="367" stroke="#000" stroke-width="1.08"/>
<line x1="312.27" y1="375" x2="312.27" y2="379" stroke="#000" stroke-width="1.08"/>
<line x1="312.27" y1="608.15" x2="312.27" y2="604.15" stroke="#000" stroke-width="1.08"/>
<line x1="318.55" y1="341.05" x2="318.55" y2="345.05" stroke="#000" stroke-width="1.08"/>
<line x1="318.55" y1="375" x2="318.55" y2="371" stroke="#000" stroke-width="1.08"/>
<line x1="324.82" y1="341.05" x2="324.82" y2="345.05" stroke="#000" stroke-width="1.08"/>
<line x1="324.82" y1="375" x2="324.82" y2="371" stroke="#000" stroke-width="1.08"/>
<line x1="327.96" y1="375" x2="327.96" y2="379" stroke="#000" stroke-width="1.08"/>
<line x1="327.96" y1="608.15" x2="327.96" y2="604.15" stroke="#000" stroke-width="1.08"/>
<line x1="52.25" y1="597.3" x2="55.95" y2="597.3" stroke="#000" stroke-width="1.08"/>
<line x1="330.7" y1="597.3" x2="327" y2="597.3" stroke="#000" stroke-width="1.08"/>
<line x1="52.25" y1="588.51" x2="55.95" y2="588.51" stroke="#000" stroke-width="1.08"/>
<line x1="330.7" y1="588.51" x2="327" y2="588.51" stroke="#000" stroke-width="1.08"/>
<line x1="52.25" y1="581.09" x2="55.95" y2="581.09" stroke="#000" stroke-width="1.08"/>
<line x1="330.7" y1="581.09" x2="327" y2="581.09" stroke="#000" stroke-width="1.08"/>
<line x1="52.25" y1="574.65" x2="55.95" y2="574.65" stroke="#000" stroke-width="1.08"/>
<line x1="330.7" y1="574.65" x2="327" y2="574.65" stroke="#000" stroke-width="1.08"/>
<line x1="52.25" y1="568.98" x2="55.95" y2="568.98" stroke="#000" stroke-width="1.08"/>
<line x1="330.7" y1="568.98" x2="327" y2="568.98" stroke="#000" stroke-width="1.08"/>
<line x1="52.25" y1="563.9" x2="59.55" y2="563.9" stroke="#000" stroke-width="1.08"/>
<line x1="330.7" y1="563.9" x2="323.4" y2="563.9" stroke="#000" stroke-width="1.08"/>
<line x1="52.25" y1="530.5" x2="55.95" y2="530.5" stroke="#000" stroke-width="1.08"/>
<line x1="330.7" y1="530.5" x2="327" y2="530.5" stroke="#000" stroke-width="1.08"/>
<line x1="52.25" y1="510.96" x2="55.95" y2="510.96" stroke="#000" stroke-width="1.08"/>
<line x1="330.7" y1="510.96" x2="327" y2="510.96" stroke="#000" stroke-width="1.08"/>
<line x1="52.25" y1="497.1" x2="55.95" y2="497.1" stroke="#000" stroke-width="1.08"/>
<line x1="330.7" y1="497.1" x2="327" y2="497.1" stroke="#000" stroke-width="1.08"/>
<line x1="52.25" y1="486.35" x2="55.95" y2="486.35" stroke="#000" stroke-width="1.08"/>
<line x1="330.7" y1="486.35" x2="327" y2="486.35" stroke="#000" stroke-width="1.08"/>
<line x1="52.25" y1="477.56" x2="55.95" y2="477.56" stroke="#000" stroke-width="1.08"/>
<line x1="330.7" y1="477.56" x2="327" y2="477.56" stroke="#000" stroke-width="1.08"/>
<line x1="52.25" y1="470.14" x2="55.95" y2="470.14" stroke="#000" stroke-width="1.08"/>
<line x1="330.7" y1="470.14" x2="327" y2="470.14" stroke="#000" stroke-width="1.08"/>
<line x1="52.25" y1="463.7" x2="55.95" y2="463.7" stroke="#000" stroke-width="1.08"/>
<line x1="330.7" y1="463.7" x2="327" y2="463.7" stroke="#000" stroke-width="1.08"/>
<line x1="52.25" y1="458.03" x2="55.95" y2="458.03" stroke="#000" stroke-width="1.08"/>
<line x1="330.7" y1="458.03" x2="327" y2="458.03" stroke="#000" stroke-width="1.08"/>
<line x1="52.25" y1="452.95" x2="59.55" y2="452.95" stroke="#000" stroke-width="1.08"/>
<line x1="330.7" y1="452.95" x2="323.4" y2="452.95" stroke="#000" stroke-width="1.08"/>
<line x1="52.25" y1="419.55" x2="55.95" y2="419.55" stroke="#000" stroke-width="1.08"/>
<line x1="330.7" y1="419.55" x2="327" y2="419.55" stroke="#000" stroke-width="1.08"/>
<line x1="52.25" y1="400.01" x2="55.95" y2="400.01" stroke="#000" stroke-width="1.08"/>
<line x1="330.7" y1="400.01" x2="327" y2="400.01" stroke="#000" stroke-width="1.08"/>
<line x1="52.25" y1="386.15" x2="55.95" y2="386.15" stroke="#000" stroke-width="1.08"/>
<line x1="330.7" y1="386.15" x2="327" y2="386.15" stroke="#000" stroke-width="1.08"/>
<text x="92.55" y="623.65" font-size="11.6" text-anchor="middle">600</text>
<text x="155.3" y="623.65" font-size="11.6" text-anchor="middle">800</text>
<text x="218.05" y="623.65" font-size="11.6" text-anchor="middle">1000</text>
<text x="280.8" y="623.65" font-size="11.6" text-anchor="middle">1200</text>
<text x="46.6" y="457.75" font-size="11.6" text-anchor="end">10</text>
<text x="46.6" y="568.75" font-size="11.6" text-anchor="end">1</text>
<text x="254.95" y="650.05" font-size="13" text-anchor="start">m</text>
<text x="265.4" y="650.05" font-size="13" text-anchor="start">(</text>
<text x="269.65" y="650.05" font-size="13" text-anchor="start">g</text>
<text x="277.5" y="650.05" font-size="13" text-anchor="start">)</text>
<text x="285.9" y="650.05" font-size="13" text-anchor="start">[</text>
<text x="290.25" y="650.05" font-size="13" text-anchor="start">G</text>
<text x="301.05" y="650.05" font-size="13" text-anchor="start">e</text>
<text x="308.15" y="650.05" font-size="13" text-anchor="start">V</text>
<text x="318" y="650.05" font-size="13" text-anchor="start">]</text>
<text x="269.3" y="643.45" font-size="13" text-anchor="start">~</text>
<g transform="translate(17.2 432.85) rotate(-90)">
<text x="0.29" y="0" font-size="13" textLength="5.99" lengthAdjust="spacingAndGlyphs">τ</text>
<text x="7.19" y="0" font-size="13">(</text>
<text x="11.05" y="0" font-size="13">g</text>
<text x="17.82" y="0" font-size="13">)</text>
<text x="25.17" y="0" font-size="13">[</text>
<text x="29.69" y="0" font-size="13">n</text>
<text x="36.54" y="0" font-size="13">s</text>
<text x="42.9" y="0" font-size="13">]</text>
<text x="11.0" y="-6.6" font-size="13">~</text>
</g>
<text transform="translate(63.3 402.45) scale(0.62 1)" font-size="13.8">√</text>
<line x1="67.2" y1="391.5" x2="73.9" y2="391.5" stroke="#000" stroke-width="0.9"/>
<text x="68.75" y="401.45" font-size="11.3" text-anchor="start">s=8 TeV</text>
<text x="109.8" y="401.45" font-size="11.3" text-anchor="start">,</text>
<text x="117.3" y="401.45" font-size="11.3" text-anchor="start">18</text>
<text x="129.1" y="401.45" font-size="11.3" text-anchor="start">.4</text>
<text x="141.8" y="401.45" font-size="11.3" text-anchor="start">fb</text>
<text x="151.1" y="397.35" font-size="7" text-anchor="start">-1</text>
<text x="80.53" y="419.65" font-size="11.3" text-anchor="start" textLength="47.22" lengthAdjust="spacingAndGlyphs">Observed</text>
<text x="132.67" y="419.65" font-size="11.3" text-anchor="start" textLength="20.55" lengthAdjust="spacingAndGlyphs">95%</text>
<text x="157.58" y="419.65" font-size="11.3" text-anchor="start">CL</text>
<text x="175.67" y="419.65" font-size="11.3" text-anchor="start">exclusion</text>
<text x="80.43" y="437.75" font-size="11.3" text-anchor="start" textLength="47.22" lengthAdjust="spacingAndGlyphs">Observed</text>
<text x="132.3" y="437.75" font-size="11.3" text-anchor="start">±1</text>
<text x="146.6" y="437.75" font-size="11.3" text-anchor="start">σ</text>
<text x="154.7" y="441.35" font-size="7.1" text-anchor="start">theory</text>
<text x="177.17" y="437.75" font-size="11.3" text-anchor="start">exclusion</text>
<text x="80.47" y="454.85" font-size="11.3" text-anchor="start">Expected</text>
<text x="130.45" y="454.85" font-size="11.3" text-anchor="start" textLength="21.38" lengthAdjust="spacingAndGlyphs">95%</text>
<text x="156.61" y="454.85" font-size="11.3" text-anchor="start" textLength="13.49" lengthAdjust="spacingAndGlyphs">CL</text>
<text x="173.57" y="454.85" font-size="11.3" text-anchor="start">exclusion</text>
<text x="223.2" y="454.85" font-size="11.3" text-anchor="start">(±</text>
<text x="236.5" y="454.85" font-size="11.3" text-anchor="start">1</text>
<text x="243.9" y="454.85" font-size="11.3" text-anchor="start">σ</text>
<text x="251.1" y="457.95" font-size="7.3" text-anchor="start">exp</text>
<text x="262.9" y="454.85" font-size="11.3" text-anchor="start">)</text>
<text x="83.6" y="481.25" font-size="11.3" text-anchor="start">g</text>
<text x="83.3" y="476.15" font-size="12" text-anchor="start">~</text>
<text transform="translate(85.9 481.25) scale(1.7 1)" font-size="11.3">→</text>
<text x="104.3" y="481.25" font-size="11.3" text-anchor="start">tt</text>
<line x1="107.4" y1="473.05" x2="110.6" y2="473.05" stroke="#000" stroke-width="0.9"/>
<text x="113.5" y="481.25" font-size="11.3" text-anchor="start">χ</text>
<text x="113.5" y="477.3" font-size="10.6" text-anchor="start" stroke-width="0">~</text>
<text x="120" y="475.65" font-size="7.8" text-anchor="start">0</text>
<text x="124.9" y="481.25" font-size="11.3" text-anchor="start">,</text>
<text x="130.7" y="481.25" font-size="11.3" text-anchor="start">m</text>
<text x="139.5" y="481.25" font-size="11.3" text-anchor="start">(</text>
<text x="142.9" y="481.25" font-size="11.3" text-anchor="start">χ</text>
<text x="142.9" y="477.3" font-size="10.6" text-anchor="start" stroke-width="0">~</text>
<text x="149.3" y="475.65" font-size="7.8" text-anchor="start">0</text>
<text x="153.3" y="481.25" font-size="11.3" text-anchor="start">)=</text>
<text x="163.1" y="481.25" font-size="11.3" text-anchor="start">m</text>
<text x="172.2" y="481.25" font-size="11.3" text-anchor="start">(</text>
<text x="175.6" y="481.25" font-size="11.3" text-anchor="start">g</text>
<text x="175.2" y="476.15" font-size="12" text-anchor="start">~</text>
<text x="182.3" y="481.25" font-size="11.3" text-anchor="start">)-480</text>
<text x="211.95" y="481.25" font-size="11.3" text-anchor="start" textLength="19.84" lengthAdjust="spacingAndGlyphs">GeV</text>
<text x="243.9" y="556.85" font-size="15.6" text-anchor="start" font-weight="bold" font-style="italic">ATLAS</text>
<text x="214.3" y="363.85" font-size="9.6" text-anchor="start">Stable</text>
</g>
</svg>
</body>
</html>
